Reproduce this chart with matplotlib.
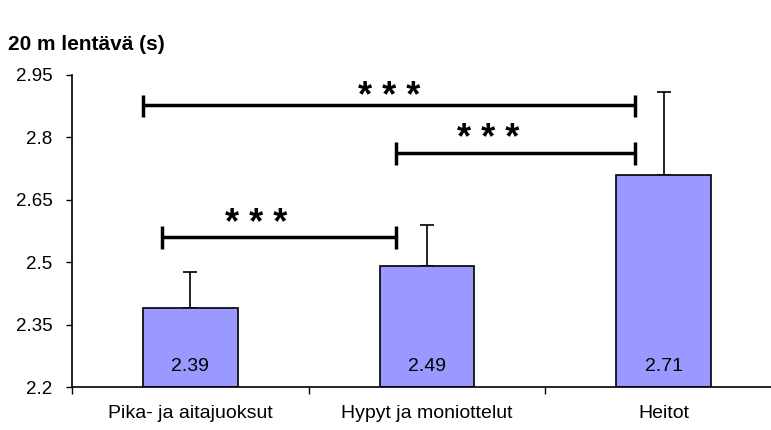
import matplotlib.pyplot as plt
import numpy as np

plt.rcParams['font.family'] = ['Liberation Sans', 'DejaVu Sans']

groups = ['Pika- ja aitajuoksut', 'Hypyt ja moniottelut', 'Heitot']
means = [2.39, 2.49, 2.71]
sds = [0.086, 0.10, 0.20]
yticks = [2.2, 2.35, 2.5, 2.65, 2.8, 2.95]
ytick_labels = ['2.2', '2.35', '2.5', '2.65', '2.8', '2.95']

# significance brackets: (x start, x end, height, label)
brackets = [(-0.2, 1.88, 2.878, '* * *'),
            (0.87, 1.88, 2.763, '* * *'),
            (-0.12, 0.87, 2.561, '* * *')]
star_x = [0.84, 1.26, 0.28]
star_y = [2.872, 2.771, 2.567]

fig = plt.figure(figsize=(7.71, 4.30), dpi=100)
ax = fig.add_axes([72 / 771, 0.1, 699 / 771, 0.7256])

x = np.arange(len(groups))
ax.bar(x, [m - 2.2 for m in means], bottom=2.2, width=0.4,
       color='#9999ff', edgecolor='black', linewidth=1.2, zorder=2)
ax.errorbar(x, means, yerr=[np.zeros(3), sds], fmt='none', ecolor='black',
            elinewidth=1.2, capsize=5, capthick=1.2, zorder=1)

for xi, m in zip(x, means):
    ax.text(xi, 2.25, f'{m:.2f}', ha='center', va='center', fontsize=14)

for (x0, x1, h, lab), sx, sy in zip(brackets, star_x, star_y):
    ax.plot([x0, x1], [h, h], color='black', lw=2.5, solid_capstyle='butt')
    for xe in (x0, x1):
        ax.plot([xe, xe], [h - 0.03, h + 0.025], color='black', lw=2.5,
                solid_capstyle='butt')
    ax.text(sx, sy, lab, ha='center', va='baseline', fontsize=26,
            fontweight='bold')

ax.set_xlim(-0.5, 2.453)
ax.set_ylim(2.2, 2.95)
ax.set_yticks(yticks)
ax.set_yticklabels(ytick_labels, fontsize=13.5)
ax.set_xticks(x)
ax.set_xticklabels(groups, fontsize=14)
ax.set_xticks([-0.5, 0.5, 1.5], minor=True)
ax.tick_params(axis='x', which='major', length=0, pad=13)
ax.tick_params(axis='x', which='minor', length=5, width=1, direction='out')
ax.tick_params(axis='y', length=4, width=1, direction='out', pad=10)

for s in ('top', 'right'):
    ax.spines[s].set_visible(False)
ax.spines['left'].set_linewidth(1.2)
ax.spines['bottom'].set_linewidth(1.2)

fig.text(8 / 771, 1 - 44 / 430, '20 m lentävä (s)', fontsize=15,
         fontweight='bold', ha='left', va='center')

fig.savefig('out.png', dpi=100)
